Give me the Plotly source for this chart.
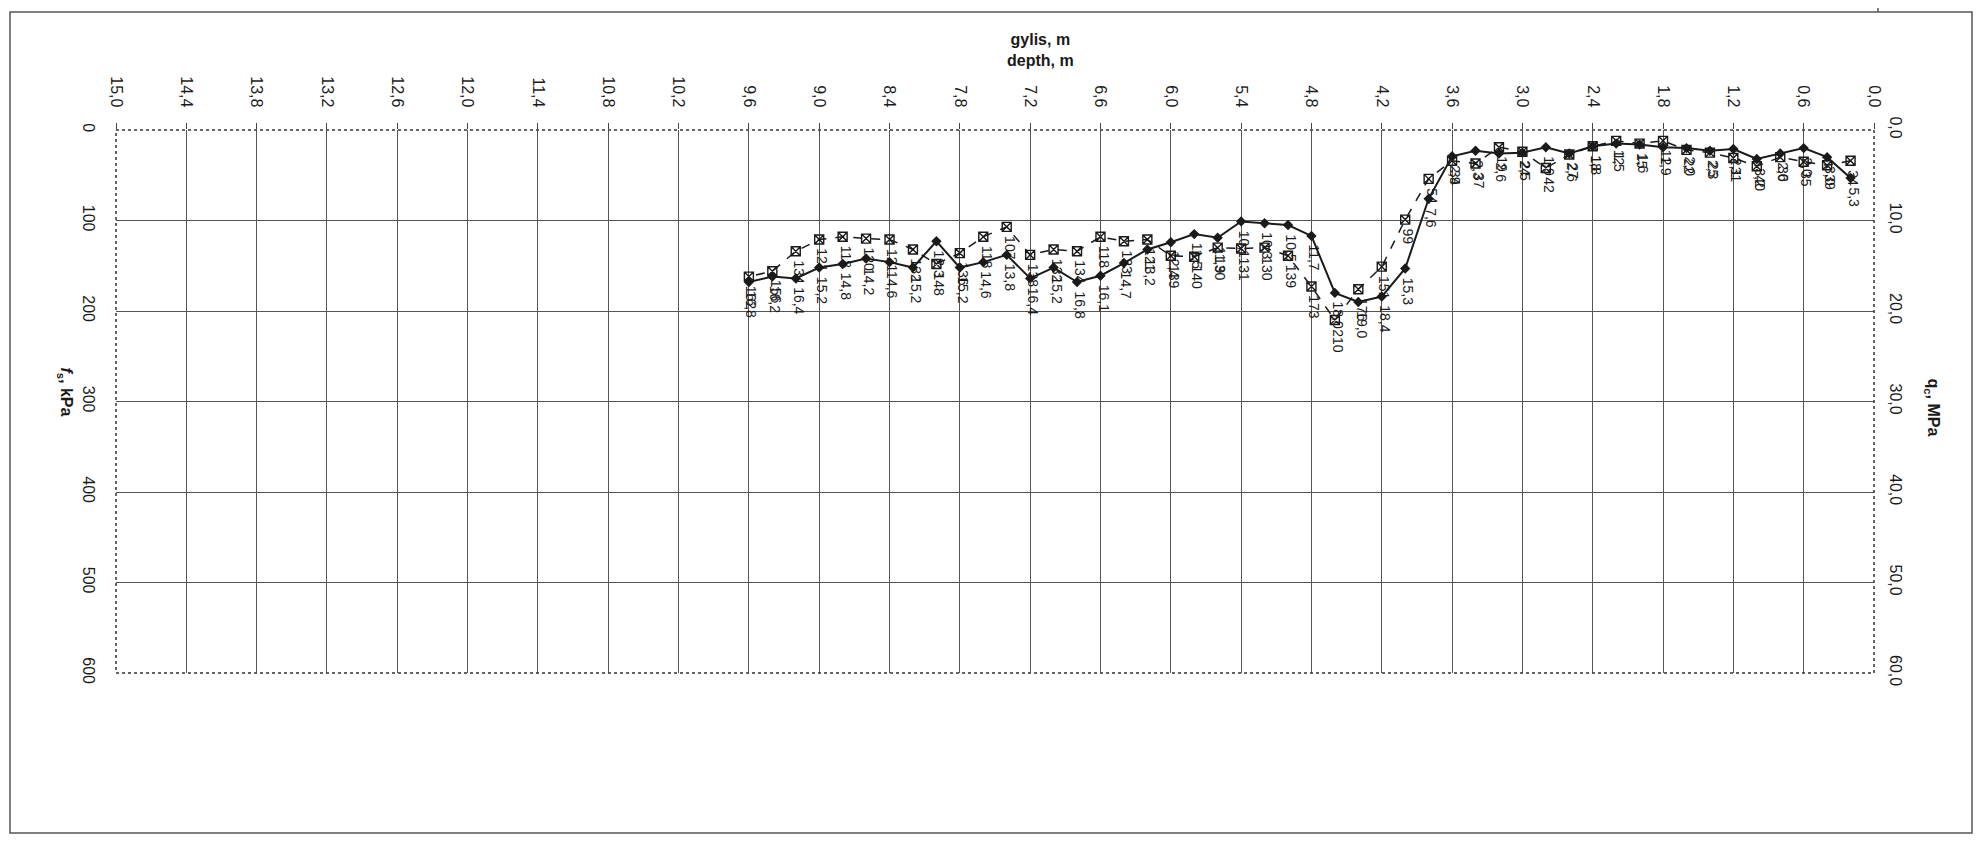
"""CPT sounding chart: q_c and f_s against depth."""
import plotly.graph_objects as go

# depth of each reading, m
depth = [0.2, 0.4, 0.6, 0.8, 1.0, 1.2, 1.4, 1.6, 1.8, 2.0, 2.2, 2.4,
         2.6, 2.8, 3.0, 3.2, 3.4, 3.6, 3.8, 4.0, 4.2, 4.4, 4.6, 4.8,
         5.0, 5.2, 5.4, 5.6, 5.8, 6.0, 6.2, 6.4, 6.6, 6.8, 7.0, 7.2,
         7.4, 7.6, 7.8, 8.0, 8.2, 8.4, 8.6, 8.8, 9.0, 9.2, 9.4, 9.6]

# cone resistance q_c, MPa
qc = [5.3, 3.0, 2.0, 2.6, 3.2, 2.1, 2.3, 2.0, 1.9, 1.6, 1.5, 1.8,
      2.6, 1.9, 2.5, 2.6, 2.3, 2.9, 7.6, 15.3, 18.4, 19.0, 18.0, 11.7,
      10.5, 10.3, 10.1, 11.9, 11.5, 12.4, 13.2, 14.7, 16.1, 16.8, 15.2, 16.4,
      13.8, 14.6, 15.2, 12.3, 15.2, 14.6, 14.2, 14.8, 15.2, 16.4, 16.2, 16.8]

# sleeve friction f_s, kPa
fs = [34, 39, 35, 30, 40, 31, 25, 22, 12, 15, 12, 18,
      27, 42, 24, 19, 37, 34, 54, 99, 151, 176, 210, 173,
      139, 130, 131, 130, 140, 139, 121, 123, 118, 134, 132, 138,
      107, 118, 136, 148, 132, 121, 120, 118, 121, 134, 156, 162]

FONT = "Liberation Sans, Arial, sans-serif"
INK = "#1a1a1a"

# page is 1983 x 843, the html body adds an 8 px margin around the figure
PAGE_W, PAGE_H, OFF = 1983, 843, 8
W, H = PAGE_W - 2 * OFF, PAGE_H - 2 * OFF
# plot area in page pixels
L, R, T, B = 116, 1874, 130, 673


def px(x):
    return (x - L) / (R - L)


def py(y):
    return (B - y) / (B - T)


fig = go.Figure()

fig.add_trace(go.Scatter(
    x=depth, y=fs, mode="lines+markers", name="f_s", yaxis="y",
    line=dict(color=INK, width=1.5, dash="dash"),
    marker=dict(symbol="square-x-open", size=9, color=INK, line=dict(width=1.4)),
))
fig.add_trace(go.Scatter(
    x=depth, y=qc, mode="lines+markers", name="q_c", yaxis="y2",
    line=dict(color=INK, width=2),
    marker=dict(symbol="diamond", size=8, color=INK),
))

annotations = []
for d, v in zip(depth, fs):
    annotations.append(dict(
        x=d, y=v, xref="x", yref="y", text=str(v), showarrow=False,
        textangle=90, xanchor="center", yanchor="top", yshift=-7, xshift=3,
        font=dict(family=FONT, size=14, color=INK),
    ))
for d, v in zip(depth, qc):
    annotations.append(dict(
        x=d, y=v, xref="x", yref="y2", text=f"{v:.1f}".replace(".", ","),
        showarrow=False, textangle=90, xanchor="center", yanchor="top",
        yshift=-7, xshift=3, font=dict(family=FONT, size=14, color=INK),
    ))

# axis titles
annotations += [
    dict(x=px(1040), y=1, xref="paper", yref="paper", yshift=80,
         text="<b>gylis, m</b><br><b>depth, m</b>", showarrow=False,
         xanchor="center", yanchor="middle",
         font=dict(family=FONT, size=16, color=INK)),
    dict(x=px(54), y=py(392), xref="paper", yref="paper",
         text="<b><i>f</i><sub>s</sub>, kPa</b>", showarrow=False, textangle=90,
         font=dict(family=FONT, size=16, color=INK)),
    dict(x=px(1943), y=py(407), xref="paper", yref="paper",
         text="<b>q<sub>c</sub>, MPa</b>", showarrow=False, textangle=90,
         font=dict(family=FONT, size=16, color=INK)),
]

shapes = [
    # plot frame (dotted in the scan)
    dict(type="rect", xref="paper", yref="paper", x0=0, y0=0, x1=1, y1=1,
         line=dict(color="#333333", width=1.5, dash="dot")),
    # page border
    dict(type="rect", xref="paper", yref="paper", x0=px(10), y0=py(833),
         x1=px(1972), y1=py(12), line=dict(color="#555555", width=1.5)),
    dict(type="line", xref="paper", yref="paper", x0=px(1878), y0=py(8),
         x1=px(1878), y1=py(12), line=dict(color="#555555", width=1.5)),
]

fig.update_layout(
    width=W, height=H,
    margin=dict(l=L - OFF, r=OFF + W - R, t=T - OFF, b=OFF + H - B),
    paper_bgcolor="white", plot_bgcolor="white",
    separators=", ",
    showlegend=False,
    font=dict(family=FONT, size=16, color=INK),
    xaxis=dict(
        range=[15, 0], side="top", tick0=0, dtick=0.6, tickformat=".1f",
        tickangle=90, ticks="outside", ticklen=6, tickcolor="#444444",
        showgrid=True, gridcolor="#555555", gridwidth=1, zeroline=False,
        showline=False, ticklabelstandoff=10,
    ),
    yaxis=dict(
        range=[600, 0], dtick=100, tickangle=90, showgrid=True,
        gridcolor="#555555", gridwidth=1, zeroline=False, showline=False,
        ticks="", ticklabelstandoff=16,
    ),
    yaxis2=dict(
        range=[60, 0], dtick=10, tickformat=".1f", tickangle=90,
        overlaying="y", side="right", showgrid=False, zeroline=False,
        showline=False, ticks="", ticklabelstandoff=12,
    ),
    annotations=annotations,
    shapes=shapes,
)

fig.write_html("out.html")
